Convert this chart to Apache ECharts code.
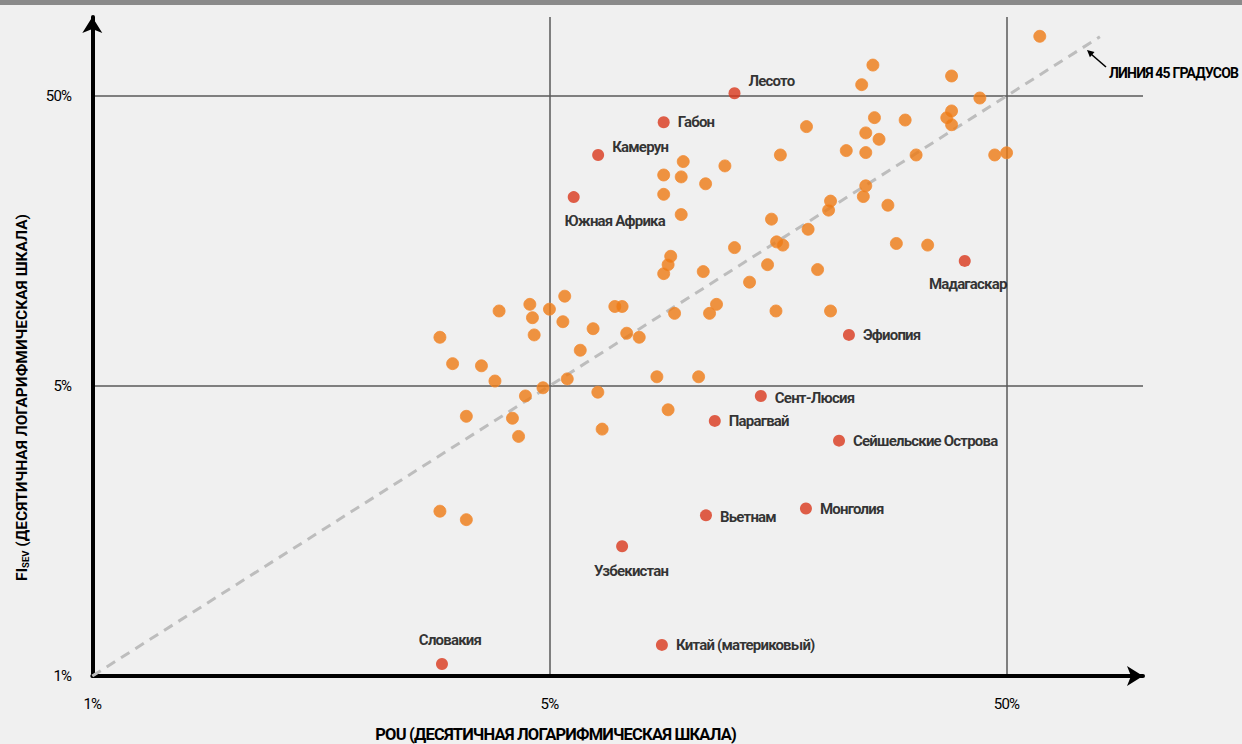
<!DOCTYPE html>
<html><head><meta charset="utf-8">
<script src="https://cdn.jsdelivr.net/npm/echarts@6/dist/echarts.min.js"></script>
<style>
html,body{margin:0;padding:0;background:#f0f0f0;}
#c{width:1242px;height:744px;}
#c svg text:not([style*="Arial"]):not([font-family*="Arial"]){letter-spacing:-0.8px;}
</style>
</head><body><div id="c"></div>
<script>
// ---- data (percent) ----
const tickValues = [0.5, 5, 50];
const tickLabels = ['1%', '5%', '50%'];
const diagonalValues = [0.5, 80];

const otherPOU = [59.1,25.5,37.9,24.1,43.7,25.7,30.0,37.9,37.0,37.9,18.25,24.6,26.3,16.0,22.3,24.6,31.7,47.1,50.0,9.81,
  12.1,8.89,9.71,10.98,8.89,24.6,24.3,27.5,20.6,20.4,9.71,15.3,18.4,15.7,16.2,28.7,33.6,12.7,9.21,9.09,
  8.89,10.85,15.0,19.3,13.7,5.40,4.53,3.88,5.0,6.95,7.21,11.6,11.2,9.39,15.65,20.6,4.59,5.35,6.23,2.88,
  4.63,7.38,7.86,5.84,3.07,3.55,3.80,5.47,8.59,10.6,4.84,4.43,6.38,9.09,3.29,4.15,6.52,4.28,2.88,3.29];
const otherFIsev = [80.3,63.9,58.6,54.7,49.2,42.1,41.3,44.4,42.1,39.8,39.2,37.3,35.45,31.3,32.4,31.9,31.3,31.3,31.85,29.7,
  28.7,26.7,26.3,24.9,22.9,24.5,22.5,21.0,21.7,20.2,19.5,18.8,17.35,15.7,15.3,15.5,15.3,15.0,14.0,13.1,
  12.2,12.4,13.1,12.6,11.4,10.2,9.56,9.07,9.2,9.4,9.4,9.56,8.9,8.9,9.07,9.07,8.6,8.33,7.88,7.36,
  7.5,7.6,7.36,6.64,5.97,5.87,5.2,5.29,5.38,5.38,4.93,4.62,4.76,4.14,3.93,3.87,3.55,3.35,1.85,1.73];

const namedCountries = ['Лесото','Габон','Камерун','Южная Африка','Мадагаскар','Эфиопия','Сент-Люсия','Парагвай',
  'Сейшельские Острова','Монголия','Вьетнам','Узбекистан','Китай (материковый)','Словакия'];
const namedPOU = [12.7,8.89,6.39,5.65,40.5,22.6,14.5,11.5,21.5,18.2,11.0,7.21,8.81,2.91];
const namedFIsev = [51.1,40.6,31.3,22.4,13.5,7.5,4.62,3.79,3.24,1.89,1.79,1.40,0.64,0.55];

// ---- label placement (style only) ----
const labelPlacement = {
  'Лесото': {position:'right', offset:[0,-12]},
  'Камерун': {position:'right', offset:[0,-8]},
  'Южная Африка': {position:'bottom', offset:[41,2]},
  'Мадагаскар': {position:'bottom', offset:[3,2]},
  'Узбекистан': {position:'bottom', offset:[9,3]},
  'Словакия': {position:'top', offset:[8,-2]},
  'Вьетнам': {position:'right', offset:[0,2]},
  'Сент-Люсия': {position:'right', offset:[0,2]}
};

const FONT = "Roboto, 'Liberation Sans', sans-serif";
const FONT_PLAIN = "Roboto, 'Liberation Sans', Arial, sans-serif"; // no letter-spacing tweak
const INK = '#000';

const fmtTick = v => {
  const i = tickValues.findIndex(t => Math.abs(t - v) / t < 1e-6);
  return i >= 0 ? tickLabels[i] : '';
};

const axisCommon = {
  type: 'log', logBase: 10, min: 0.5,
  axisLine: {show: true, onZero: false, symbol: ['none','arrow'], symbolSize: [15,16],
    lineStyle: {color: '#000', width: 4}},
  axisTick: {show: false, customValues: tickValues},
  minorTick: {show: false}, minorSplitLine: {show: false},
  splitLine: {show: true, lineStyle: {color: '#5a5a5a', width: 1.5}},
  axisLabel: {customValues: tickValues, formatter: fmtTick, fontSize: 15, color: INK, fontFamily: FONT},
  nameLocation: 'middle'
};

const chart = echarts.init(document.getElementById('c'), null, {renderer: 'svg'});
chart.setOption({
  backgroundColor: '#f0f0f0',
  animation: false,
  grid: {left: 92.3, top: 17, right: 99, bottom: 68, containLabel: false, outerBoundsMode: 'none'},
  xAxis: Object.assign({}, axisCommon, {
    max: 99.4,
    axisLabel: Object.assign({}, axisCommon.axisLabel, {margin: 20}),
    name: 'POU (ДЕСЯТИЧНАЯ ЛОГАРИФМИЧЕСКАЯ ШКАЛА)',
    nameGap: 50,
    nameTextStyle: {fontSize: 16.5, fontWeight: 'bold', color: INK, fontFamily: FONT, padding: [0,124,0,0]}
  }),
  yAxis: Object.assign({}, axisCommon, {
    max: 93.6,
    axisLabel: Object.assign({}, axisCommon.axisLabel, {margin: 21}),
    name: 'FI{sub|SEV} (ДЕСЯТИЧНАЯ ЛОГАРИФМИЧЕСКАЯ ШКАЛА)',
    nameGap: 62, nameRotate: 90,
    nameTextStyle: {fontSize: 15.5, fontWeight: 'bold', color: INK, fontFamily: FONT_PLAIN, padding: [0,102,0,0],
      rich: {sub: {fontSize: 9.5, fontWeight: 'bold', color: INK, fontFamily: FONT_PLAIN, verticalAlign: 'bottom', padding: [7,0,0,0]}}}
  }),
  series: [
    {
      type: 'line', z: 1, silent: true, symbol: 'none',
      data: diagonalValues.map(v => [v, v]),
      lineStyle: {color: '#bdbdbd', width: 3, type: [10, 7]}
    },
    {
      type: 'scatter', z: 3, symbolSize: 12,
      data: otherPOU.map((x, i) => [x, otherFIsev[i]]),
      itemStyle: {color: '#EE7A14', borderColor: '#F28C35', borderWidth: 1}
    },
    {
      type: 'scatter', z: 4, symbolSize: 12,
      itemStyle: {color: '#D9381D'},
      label: {show: true, formatter: '{b}', position: 'right', distance: 8,
        fontSize: 15, fontWeight: 'bold', color: INK, fontFamily: FONT},
      data: namedCountries.map((n, i) => ({
        name: n, value: [namedPOU[i], namedFIsev[i]],
        label: Object.assign({}, labelPlacement[n] || {})
      }))
    }
  ],
  graphic: [
    {type: 'rect', shape: {x: 0, y: 0, width: 1242, height: 5}, style: {fill: '#8a8a8a'}, z: 10},
    {type: 'line', shape: {x1: 1106, y1: 67, x2: 1091, y2: 54}, style: {stroke: INK, lineWidth: 1.6}, z: 10},
    {type: 'polygon', shape: {points: [[1087,50],[1089.9,57.2],[1094.5,52.0]]}, style: {fill: INK}, z: 10},
    {type: 'text', x: 1109, y: 73, z: 10,
      style: {text: 'ЛИНИЯ 45 ГРАДУСОВ', fill: INK, font: 'bold 14px ' + FONT, verticalAlign: 'middle', align: 'left'}}
  ]
});
</script></body></html>
